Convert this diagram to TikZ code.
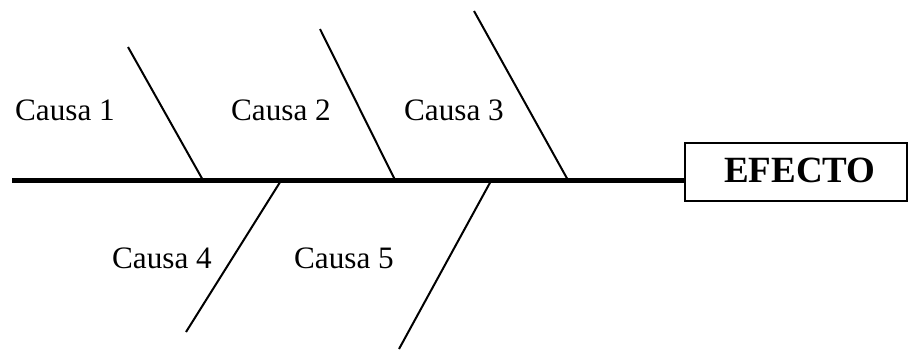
\documentclass[tikz,border=0pt]{standalone}
\usepackage{fontspec}
\setmainfont{Liberation Serif}
\begin{document}
\begin{tikzpicture}[x=0.5pt,y=-0.5pt,
  bone/.style={line width=1pt},
  spine/.style={line width=2.5pt},
  lbl/.style={font=\fontsize{15.6pt}{18pt}\selectfont, inner sep=0pt},
  effbox/.style={draw, line width=1pt, minimum width=111pt, minimum height=29pt, inner sep=0pt}]
\useasboundingbox (0,0) rectangle (908,349);
% effect box
\node[effbox] (efecto) at (796,172) {};
\node[lbl, font=\fontsize{18.5pt}{22pt}\selectfont\bfseries] (eftxt) at (800,170) {EFECTO};
% spine
\coordinate (s0) at (12,180);
\draw[spine] (s0) -- (efecto.west |- s0);
% bones
\coordinate (a1) at (128,47);  \coordinate (b1) at (204,182);
\coordinate (a2) at (320,29);  \coordinate (b2) at (396,182);
\coordinate (a3) at (474,11);  \coordinate (b3) at (569,182);
\coordinate (a4) at (282,179); \coordinate (b4) at (186,332);
\coordinate (a5) at (492,179); \coordinate (b5) at (399,349);
\draw[bone] (a1) -- (b1);
\draw[bone] (a2) -- (b2);
\draw[bone] (a3) -- (b3);
\draw[bone] (a4) -- (b4);
\draw[bone] (a5) -- (b5);
% labels
\node[lbl] (c1) at (65,110) {Causa 1};
\node[lbl] (c2) at (281,110) {Causa 2};
\node[lbl] (c3) at (454,110) {Causa 3};
\node[lbl] (c4) at (162,258) {Causa 4};
\node[lbl] (c5) at (344,258) {Causa 5};
\end{tikzpicture}
\end{document}
